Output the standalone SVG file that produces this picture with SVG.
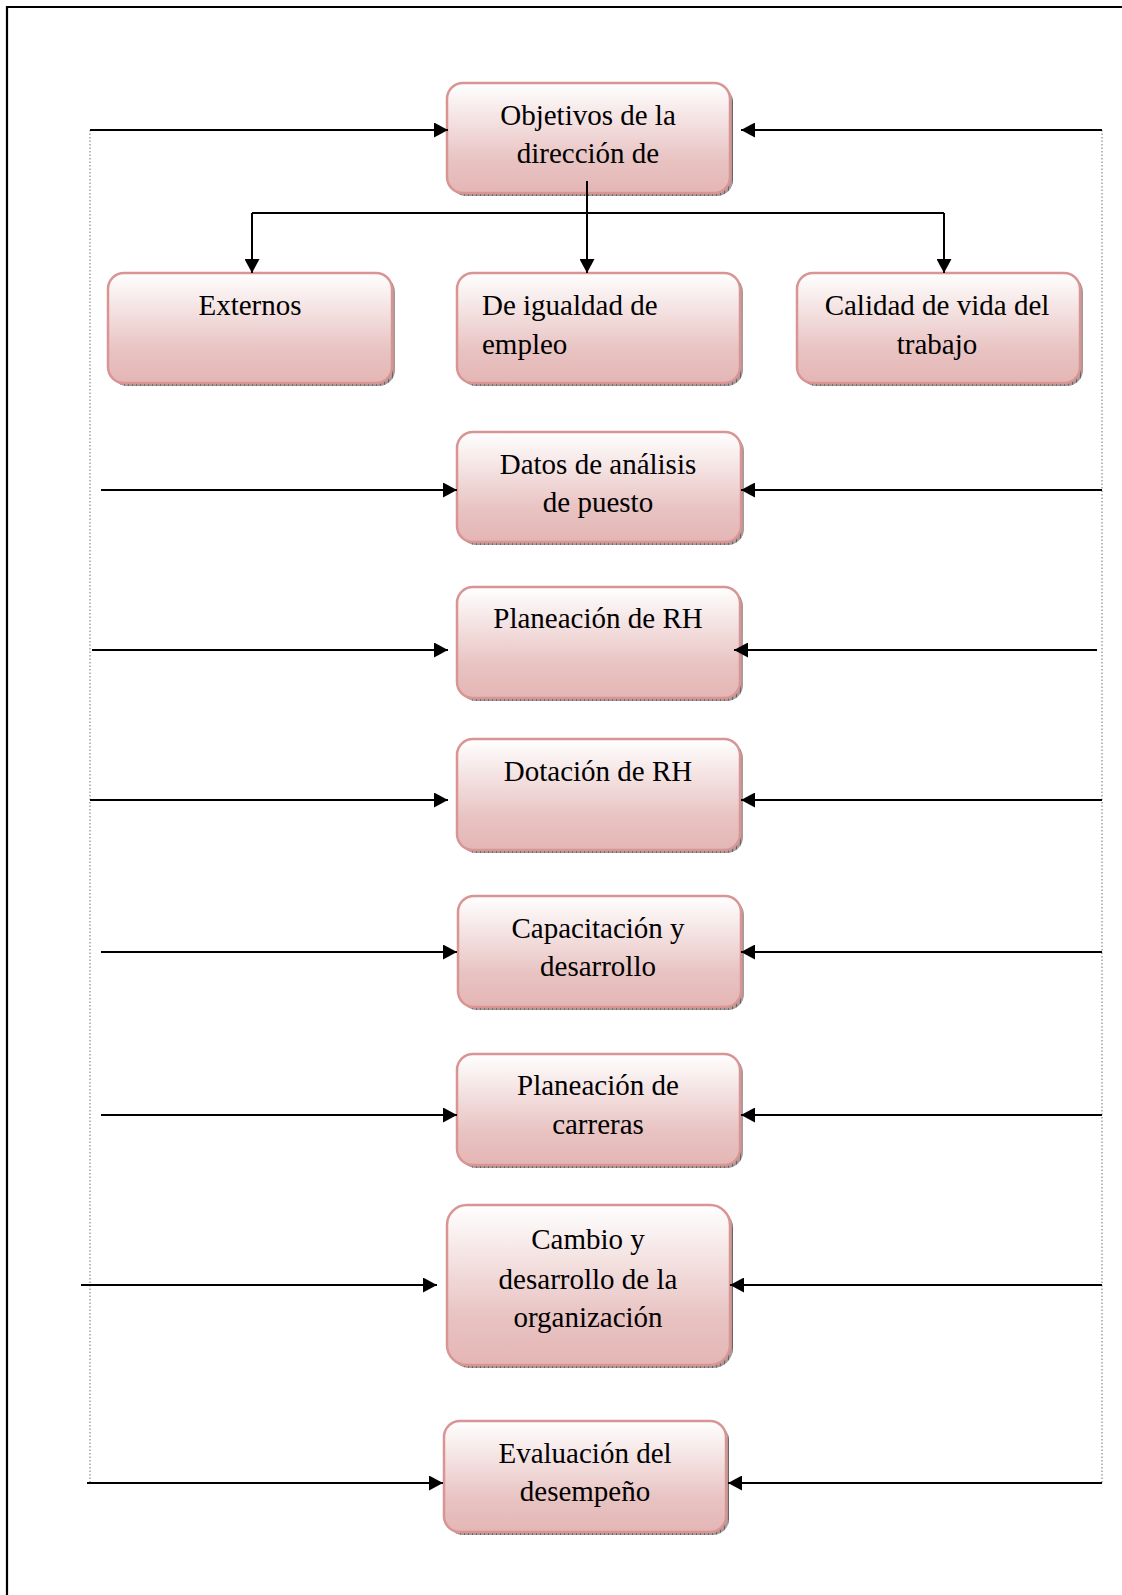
<svg xmlns="http://www.w3.org/2000/svg" width="1122" height="1595" viewBox="0 0 1122 1595">
  <style>
    .box { fill: url(#boxFill); stroke: #d99594; stroke-width: 2.5; }
    .shadow { fill: url(#shadowHatch); }
    .lbl { font-family: "Liberation Serif", "Times New Roman", serif; font-size: 29px; fill: #000; }
    .mid { text-anchor: middle; }
    .arrow { stroke: #000; stroke-width: 2; fill: none; marker-end: url(#head); }
    .line { stroke: #000; stroke-width: 2; fill: none; }
    .dots { stroke: #8a8a8a; stroke-width: 1.2; stroke-dasharray: 1.5 2; fill: none; }
  </style>
  <defs>
    <linearGradient id="boxFill" x1="0" y1="0" x2="0" y2="1">
      <stop offset="0" stop-color="#ffffff"/>
      <stop offset="0.7" stop-color="#e8c3c2"/>
      <stop offset="1" stop-color="#e4b6b5"/>
    </linearGradient>
    <pattern id="shadowHatch" width="4" height="4" patternUnits="userSpaceOnUse">
      <rect width="4" height="4" fill="#a99a9a"/>
      <rect width="1" height="4" fill="#6f6262"/>
    </pattern>
    <marker id="head" markerWidth="14" markerHeight="15" refX="14" refY="7.5" orient="auto" markerUnits="userSpaceOnUse">
      <path d="M0,0 L14,7.5 L0,15 z" fill="#000"/>
    </marker>
  </defs>

  <rect width="1122" height="1595" fill="#ffffff"/>
  <!-- page frame -->
  <path d="M7,1595 V7 H1122" fill="none" stroke="#000" stroke-width="2.2"/>

  <g id="objetivos">
    <rect class="shadow" x="450" y="86" width="283" height="110" rx="16"/>
    <rect class="box" x="447" y="83" width="283" height="110" rx="16"/>
    <text class="lbl mid" x="588" y="125">Objetivos de la</text>
    <text class="lbl mid" x="588" y="163">dirección de</text>
  </g>

  <g id="externos">
    <rect class="shadow" x="111" y="276" width="284" height="110" rx="16"/>
    <rect class="box" x="108" y="273" width="284" height="110" rx="16"/>
    <text class="lbl mid" x="250" y="315">Externos</text>
  </g>

  <g id="igualdad">
    <rect class="shadow" x="460" y="276" width="283" height="110" rx="16"/>
    <rect class="box" x="457" y="273" width="283" height="110" rx="16"/>
    <text class="lbl" x="482" y="315">De igualdad de</text>
    <text class="lbl" x="482" y="354">empleo</text>
  </g>

  <g id="calidad">
    <rect class="shadow" x="800" y="276" width="283" height="110" rx="16"/>
    <rect class="box" x="797" y="273" width="283" height="110" rx="16"/>
    <text class="lbl mid" x="937" y="315">Calidad de vida del</text>
    <text class="lbl mid" x="937" y="354">trabajo</text>
  </g>

  <g id="analisis">
    <rect class="shadow" x="460" y="435" width="284" height="110" rx="16"/>
    <rect class="box" x="457" y="432" width="284" height="110" rx="16"/>
    <text class="lbl mid" x="598" y="474">Datos de análisis</text>
    <text class="lbl mid" x="598" y="512">de puesto</text>
  </g>

  <g id="planeacion-rh">
    <rect class="shadow" x="460" y="590" width="283" height="111" rx="16"/>
    <rect class="box" x="457" y="587" width="283" height="111" rx="16"/>
    <text class="lbl mid" x="598" y="628">Planeación de RH</text>
  </g>

  <g id="dotacion">
    <rect class="shadow" x="460" y="742" width="283" height="111" rx="16"/>
    <rect class="box" x="457" y="739" width="283" height="111" rx="16"/>
    <text class="lbl mid" x="598" y="781">Dotación de RH</text>
  </g>

  <g id="capacitacion">
    <rect class="shadow" x="461" y="899" width="283" height="111" rx="16"/>
    <rect class="box" x="458" y="896" width="283" height="111" rx="16"/>
    <text class="lbl mid" x="598" y="938">Capacitación y</text>
    <text class="lbl mid" x="598" y="976">desarrollo</text>
  </g>

  <g id="carreras">
    <rect class="shadow" x="460" y="1057" width="283" height="111" rx="16"/>
    <rect class="box" x="457" y="1054" width="283" height="111" rx="16"/>
    <text class="lbl mid" x="598" y="1095">Planeación de</text>
    <text class="lbl mid" x="598" y="1134">carreras</text>
  </g>

  <g id="cambio">
    <rect class="shadow" x="450" y="1208" width="283" height="160" rx="20"/>
    <rect class="box" x="447" y="1205" width="283" height="160" rx="20"/>
    <text class="lbl mid" x="588" y="1249">Cambio y</text>
    <text class="lbl mid" x="588" y="1289">desarrollo de la</text>
    <text class="lbl mid" x="588" y="1327">organización</text>
  </g>

  <g id="evaluacion">
    <rect class="shadow" x="447" y="1424" width="282" height="111" rx="16"/>
    <rect class="box" x="444" y="1421" width="282" height="111" rx="16"/>
    <text class="lbl mid" x="585" y="1463">Evaluación del</text>
    <text class="lbl mid" x="585" y="1501">desempeño</text>
  </g>

  <g id="connectors">
    <!-- side feedback rails -->
    <line class="dots" x1="90" y1="130" x2="90" y2="1483"/>
    <line class="dots" x1="1102" y1="130" x2="1102" y2="1483"/>
    <!-- branch from objectives -->
    <line class="line" x1="252" y1="213" x2="944" y2="213"/>
    <line class="arrow" x1="587" y1="181" x2="587" y2="273"/>
    <line class="arrow" x1="252" y1="213" x2="252" y2="273"/>
    <line class="arrow" x1="944" y1="213" x2="944" y2="273"/>
    <!-- left inputs -->
    <line class="arrow" x1="90" y1="130" x2="448" y2="130"/>
    <line class="arrow" x1="101" y1="490" x2="457" y2="490"/>
    <line class="arrow" x1="92" y1="650" x2="448" y2="650"/>
    <line class="arrow" x1="90" y1="800" x2="448" y2="800"/>
    <line class="arrow" x1="101" y1="952" x2="457" y2="952"/>
    <line class="arrow" x1="101" y1="1115" x2="457" y2="1115"/>
    <line class="arrow" x1="81" y1="1285" x2="437" y2="1285"/>
    <line class="arrow" x1="87" y1="1483" x2="443" y2="1483"/>
    <!-- right inputs -->
    <line class="arrow" x1="1102" y1="130" x2="741" y2="130"/>
    <line class="arrow" x1="1102" y1="490" x2="741" y2="490"/>
    <line class="arrow" x1="1097" y1="650" x2="734" y2="650"/>
    <line class="arrow" x1="1102" y1="800" x2="741" y2="800"/>
    <line class="arrow" x1="1102" y1="952" x2="741" y2="952"/>
    <line class="arrow" x1="1102" y1="1115" x2="741" y2="1115"/>
    <line class="arrow" x1="1102" y1="1285" x2="730" y2="1285"/>
    <line class="arrow" x1="1102" y1="1483" x2="728" y2="1483"/>
  </g>
</svg>
